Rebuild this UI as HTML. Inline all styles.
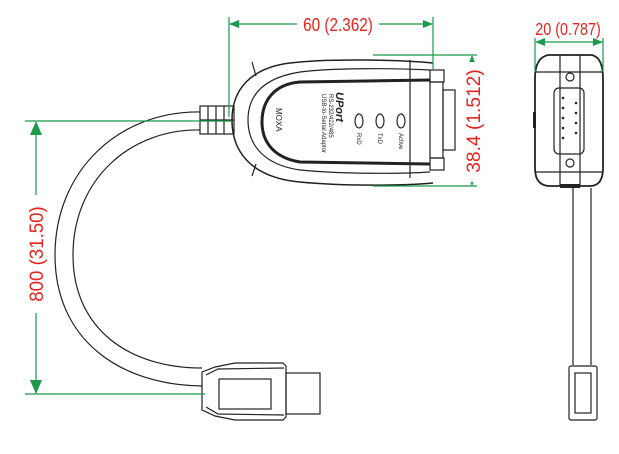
<!DOCTYPE html>
<html><head><style>
html,body{margin:0;padding:0;background:#fff;width:619px;height:454px;overflow:hidden}
svg{display:block}
text{font-family:"Liberation Sans",sans-serif}
</style></head><body>
<svg width="619" height="454" viewBox="0 0 619 454" xmlns="http://www.w3.org/2000/svg">
<defs>
<marker id="a" markerWidth="10" markerHeight="8" refX="9" refY="4" orient="auto" markerUnits="userSpaceOnUse"><path d="M0,0 L10,4 L0,8 z" fill="#1a9a4a"/></marker>
<marker id="b" markerWidth="14" markerHeight="12" refX="13" refY="6" orient="auto" markerUnits="userSpaceOnUse"><path d="M0,0 L14,6 L0,12 z" fill="#1a9a4a"/></marker>
</defs>
<g fill="none" stroke="#222" stroke-width="1.2">
<path d="M202,112 C120,110 55,170 55,255 C55,340 120,385 202,386"/>
<path d="M202,130 C130,128 73,180 73,255 C73,330 130,368 202,368"/>
<rect x="200" y="106" width="34" height="28" fill="#fff"/>
<path d="M208,106v28 M216,106v28 M224,106v28 M200,120h34"/>
<path d="M433,63 C400,60 330,58 290,63 C250,68 232,90 232,120 C232,155 255,178 300,182 C340,186 400,186 433,183" stroke-width="1.5"/>
<path d="M430,70 C390,68 330,68 300,72 C262,78 248,96 248,120 C248,146 265,165 300,170 C340,174 400,174 430,172"/>
<path d="M430,80 L300,82 C275,84 262,100 262,122 C262,143 275,158 300,162 L430,164" stroke-width="3"/>
<path d="M410,60v118 M252,62l4,14 M252,176l4,-12"/>
<rect x="430" y="70" width="14" height="12"/><rect x="430" y="158" width="14" height="12"/>
<rect x="430" y="82" width="13" height="76"/>
<rect x="443" y="90" width="12" height="60"/>
<ellipse cx="359" cy="121" rx="4" ry="7"/><ellipse cx="380" cy="121" rx="4" ry="7"/><ellipse cx="401" cy="121" rx="4" ry="7"/>
<path d="M202,372 L215,367 L235,363 L283,363 L286,366 L286,417 L283,420 L235,420 L215,416 L202,410 Z"/>
<path d="M206,375 L218,369 L284,368 M206,407 L218,414 L284,415"/>
<rect x="219" y="379" width="52" height="30"/>
<rect x="286" y="373" width="34" height="41"/>
<path d="M548,55 L592,55 Q603,58 603,78 L603,168 Q603,186 590,186 L550,186 Q535,186 535,168 L535,78 Q535,58 548,55 Z" stroke-width="1.8"/>
<path d="M535,72h68 M535,172h68 M560,55v131 M580,55v131"/>
<rect x="554" y="88" width="30" height="66" rx="5"/>
<circle cx="570" cy="77" r="4"/><circle cx="570" cy="163" r="4"/>
<g fill="#222" stroke="none"><circle cx="563" cy="98" r="1.3"/><circle cx="563" cy="108" r="1.3"/><circle cx="563" cy="118" r="1.3"/><circle cx="563" cy="128" r="1.3"/><circle cx="563" cy="138" r="1.3"/><circle cx="576" cy="103" r="1.3"/><circle cx="576" cy="113" r="1.3"/><circle cx="576" cy="123" r="1.3"/><circle cx="576" cy="133" r="1.3"/><rect x="533" y="112" width="3" height="16"/><rect x="560" y="184" width="20" height="4"/></g>
<path d="M573,188v177 M591,188v177"/>
<rect x="569" y="366" width="28" height="54" rx="2"/>
<rect x="575" y="373" width="16" height="40"/>
</g>
<g fill="#222" font-size="6">
<text transform="translate(276,108) rotate(90)" font-size="8">MOXA</text>
<text transform="translate(336,92) rotate(90)" font-size="11" font-weight="bold" font-style="italic">UPort</text>
<text transform="translate(329,94) rotate(90)">RS-232/422/485</text>
<text transform="translate(322,94) rotate(90)">USB-to-Serial Adaptor</text>
<text transform="translate(357,133) rotate(90)">RxD</text>
<text transform="translate(378,133) rotate(90)">TxD</text>
<text transform="translate(399,133) rotate(90)">Active</text>
</g>
<g stroke="#1a9a4a" stroke-width="1.2" fill="none">
<path d="M229,17v100 M433,17v52"/>
<path d="M330,24H230" marker-end="url(#a)"/><path d="M330,24H432" marker-end="url(#a)"/>
<path d="M373,55h104 M373,186h104"/>
<path d="M472,90V56" marker-end="url(#a)"/><path d="M472,150V185" marker-end="url(#a)"/>
<path d="M535,38v34 M603,38v34"/>
<path d="M569,42H536" marker-end="url(#a)"/><path d="M569,42H602" marker-end="url(#a)"/>
<path d="M25,121h207 M25,394h180"/>
<path d="M36,200V122" marker-end="url(#b)"/><path d="M36,310V393" marker-end="url(#b)"/>
</g>
<g fill="#fff" stroke="none">
<rect x="297" y="12" width="82" height="22"/><rect x="462" y="62" width="20" height="120"/><rect x="26" y="195" width="20" height="118"/>
</g>
<g fill="#e8231f">
<text transform="translate(338,31) scale(0.9,1.1)" text-anchor="middle" font-size="17">60 (2.362)</text>
<text transform="translate(568,35) scale(0.9,1.1)" text-anchor="middle" font-size="16">20 (0.787)</text>
<text transform="translate(480,121) rotate(-90) scale(1.2,1.2)" text-anchor="middle" font-size="16">38.4 (1.512)</text>
<text transform="translate(43,254) rotate(-90) scale(1.1,1.15)" text-anchor="middle" font-size="17">800 (31.50)</text>
</g>
</svg>
</body></html>
